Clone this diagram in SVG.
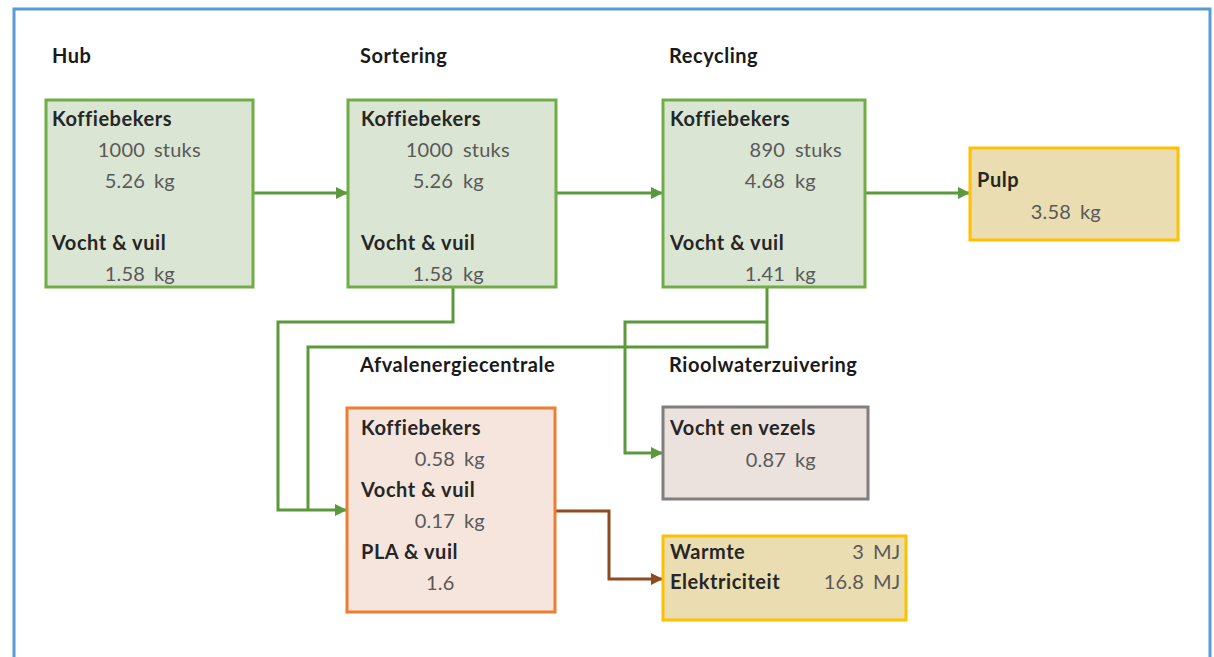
<svg xmlns="http://www.w3.org/2000/svg" width="1214" height="657" viewBox="0 0 1214 657">
<style>
text{font-variant-ligatures:none}
.hdr{font-family:Lato,"Liberation Sans",sans-serif;font-weight:bold;font-size:20px;letter-spacing:0.55px;fill:#1a1a1a}
.lbl{font-family:Lato,"Liberation Sans",sans-serif;font-weight:bold;font-size:20px;letter-spacing:0.55px;fill:#262626}
.num{font-family:Lato,"Liberation Sans",sans-serif;font-size:20px;letter-spacing:0.2px;fill:#595959}
.green{fill:#dae5d3;stroke:#70ad47;stroke-width:3}
.gold{fill:#e9ddb1;stroke:#ffc000;stroke-width:3}
.orange{fill:#f6e5dc;stroke:#ed7d31;stroke-width:3}
.grey{fill:#ebe1dd;stroke:#7f7f7f;stroke-width:3}
.cg{fill:none;stroke:#5b9a3c;stroke-width:3}
.cb{fill:none;stroke:#8e4b1f;stroke-width:3}
</style>
<defs>
<marker id="ag" markerUnits="userSpaceOnUse" markerWidth="12" markerHeight="12" refX="11" refY="6" orient="auto">
<path d="M0,0 L12,6 L0,12 Z" fill="#5b9a3c"/>
</marker>
<marker id="ab" markerUnits="userSpaceOnUse" markerWidth="12" markerHeight="12" refX="11" refY="6" orient="auto">
<path d="M0,0 L12,6 L0,12 Z" fill="#8e4b1f"/>
</marker>
</defs>
<rect width="1214" height="657" fill="#ffffff"/>
<path d="M14,660 V9 H1210 V660" fill="none" stroke="#5b9bd5" stroke-width="3"/>

<g id="connectors">
<path class="cg" d="M253,193 H347" marker-end="url(#ag)"/>
<path class="cg" d="M556,193 H662" marker-end="url(#ag)"/>
<path class="cg" d="M865,193 H969" marker-end="url(#ag)"/>
<path class="cg" d="M453,287 V322 H278 V510 H346" marker-end="url(#ag)"/>
<path class="cg" d="M767,287 V347 H308 V510"/>
<path class="cg" d="M767,322 H625 V453 H662" marker-end="url(#ag)"/>
<path class="cb" d="M555,511 H609 V579 H662" marker-end="url(#ab)"/>
</g>

<g id="hub">
<text class="hdr" x="52" y="63">Hub</text>
<rect class="green" x="46" y="100" width="207" height="187"/>
<text class="lbl" x="52" y="126">Koffiebekers</text>
<text class="num"><tspan x="145" y="157" text-anchor="end">1000</tspan><tspan x="154" y="157">stuks</tspan></text>
<text class="num"><tspan x="145" y="188" text-anchor="end">5.26</tspan><tspan x="154" y="188">kg</tspan></text>
<text class="lbl" x="52" y="250">Vocht &amp; vuil</text>
<text class="num"><tspan x="145" y="281" text-anchor="end">1.58</tspan><tspan x="154" y="281">kg</tspan></text>
</g>

<g id="sortering">
<text class="hdr" x="360" y="63">Sortering</text>
<rect class="green" x="348" y="100" width="208" height="187"/>
<text class="lbl" x="361" y="126">Koffiebekers</text>
<text class="num"><tspan x="453" y="157" text-anchor="end">1000</tspan><tspan x="463" y="157">stuks</tspan></text>
<text class="num"><tspan x="453" y="188" text-anchor="end">5.26</tspan><tspan x="463" y="188">kg</tspan></text>
<text class="lbl" x="361" y="250">Vocht &amp; vuil</text>
<text class="num"><tspan x="453" y="281" text-anchor="end">1.58</tspan><tspan x="463" y="281">kg</tspan></text>
</g>

<g id="recycling">
<text class="hdr" x="669" y="63">Recycling</text>
<rect class="green" x="663" y="100" width="202" height="187"/>
<text class="lbl" x="670" y="126">Koffiebekers</text>
<text class="num"><tspan x="785" y="157" text-anchor="end">890</tspan><tspan x="795" y="157">stuks</tspan></text>
<text class="num"><tspan x="785" y="188" text-anchor="end">4.68</tspan><tspan x="795" y="188">kg</tspan></text>
<text class="lbl" x="670" y="250">Vocht &amp; vuil</text>
<text class="num"><tspan x="785" y="281" text-anchor="end">1.41</tspan><tspan x="795" y="281">kg</tspan></text>
</g>

<g id="pulp">
<rect class="gold" x="970" y="148" width="208" height="92"/>
<text class="lbl" x="977" y="187">Pulp</text>
<text class="num"><tspan x="1071" y="219" text-anchor="end">3.58</tspan><tspan x="1080" y="219">kg</tspan></text>
</g>

<g id="afvalenergiecentrale">
<text class="hdr" x="360" y="372">Afvalenergiecentrale</text>
<rect class="orange" x="347" y="408" width="208" height="204"/>
<text class="lbl" x="361" y="435">Koffiebekers</text>
<text class="num"><tspan x="455" y="466" text-anchor="end">0.58</tspan><tspan x="464" y="466">kg</tspan></text>
<text class="lbl" x="361" y="497">Vocht &amp; vuil</text>
<text class="num"><tspan x="455" y="528" text-anchor="end">0.17</tspan><tspan x="464" y="528">kg</tspan></text>
<text class="lbl" x="361" y="559">PLA &amp; vuil</text>
<text class="num" x="426" y="590">1.6</text>
</g>

<g id="rioolwaterzuivering">
<text class="hdr" x="669" y="372">Rioolwaterzuivering</text>
<rect class="grey" x="663" y="407" width="205" height="92"/>
<text class="lbl" x="670" y="435">Vocht en vezels</text>
<text class="num"><tspan x="786" y="467" text-anchor="end">0.87</tspan><tspan x="795" y="467">kg</tspan></text>
</g>

<g id="energie">
<rect class="gold" x="663" y="536" width="243" height="84"/>
<text class="lbl" x="670" y="559">Warmte</text>
<text class="num"><tspan x="864" y="559" text-anchor="end">3</tspan><tspan x="873" y="559">MJ</tspan></text>
<text class="lbl" x="670" y="589">Elektriciteit</text>
<text class="num"><tspan x="864" y="589" text-anchor="end">16.8</tspan><tspan x="873" y="589">MJ</tspan></text>
</g>
</svg>
